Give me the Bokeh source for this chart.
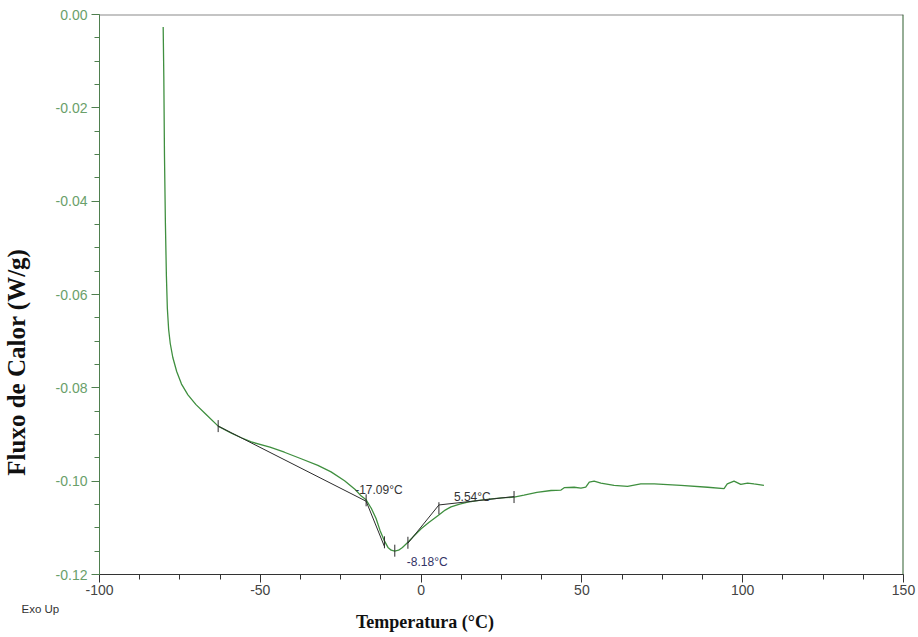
from bokeh.plotting import figure
from bokeh.models import (Range1d, SingleIntervalTicker, PrintfTickFormatter, Span,
                          Title, ColumnDataSource, LinearAxis, FixedTicker)
from bokeh.core.properties import value
from bokeh.embed import file_html
from bokeh.resources import INLINE
import numpy as np

# ---- data ----
temp = [-80.2, -80.0, -79.8, -79.5, -79.2, -78.9, -78.5, -78.0, -77.2, -76.0, -74.5, -72.5,
        -70.0, -67.0, -63.1, -59.0, -55.9, -52.8, -47.0, -42.5, -37.3, -32.1, -28.0, -23.8,
        -20.5, -18.6, -17.1, -15.5, -14.0, -12.8, -11.4, -10.3, -9.3, -8.2, -7.0, -5.8, -4.1,
        -2.0, 0.0, 2.5, 5.2, 7.5, 9.3, 12.0, 14.5, 18.0, 22.0, 25.0, 28.9, 32.0, 36.0, 40.4,
        43.5, 44.5, 47.6, 49.7, 51.2, 52.3, 53.8, 55.9, 60.0, 64.2, 68.3, 72.5, 80.8, 89.1,
        94.2, 95.2, 97.3, 99.4, 101.5, 103.5, 106.6]
heat_flow = [-0.0027, -0.0134, -0.0300, -0.0450, -0.0560, -0.0630, -0.0675, -0.0705, -0.0735,
             -0.0765, -0.0792, -0.0815, -0.0836, -0.0856, -0.0882, -0.0897, -0.0907, -0.0916,
             -0.0927, -0.0938, -0.0952, -0.0966, -0.0980, -0.0999, -0.1018, -0.1032, -0.1040,
             -0.1058, -0.1080, -0.1105, -0.1128, -0.1142, -0.1148, -0.1150, -0.1148, -0.1142,
             -0.1131, -0.1116, -0.1102, -0.1088, -0.1074, -0.1062, -0.1055, -0.1049, -0.1045,
             -0.1041, -0.1038, -0.1036, -0.1034, -0.1030, -0.1024, -0.1020, -0.1019, -0.1014,
             -0.1013, -0.1015, -0.1013, -0.1002, -0.1000, -0.1004, -0.1009, -0.1011, -0.1006,
             -0.1006, -0.1009, -0.1013, -0.1016, -0.1006, -0.1000, -0.1007, -0.1004, -0.1006,
             -0.1009]

# analysis construction lines (tangents / baselines)
tangent_x = [[-63.1, -17.09], [-17.09, -11.4], [-4.1, 5.54], [5.54, 28.9]]
tangent_y = [[-0.0882, -0.1043], [-0.1043, -0.1140], [-0.1133, -0.1051], [-0.1051, -0.1033]]

# analysis markers
marker_x = [-63.1, -17.09, -11.4, -8.18, -4.1, 5.54, 28.9]
marker_y = [-0.0882, -0.1041, -0.1131, -0.1149, -0.1132, -0.1058, -0.1034]

# annotation texts
ann_x = [-17.09, -8.18, 5.54]
ann_y = [-0.1041, -0.1149, -0.1058]
ann_text = ["-17.09°C", "-8.18°C", "5.54°C"]

x_title = "Temperatura (°C)"
y_title = "Fluxo de Calor (W/g)"
x_title_at = 1.2        # x value under the title centre
y_title_at = -0.0745    # y value beside the title centre
footnote = "Exo Up"

# ---- figure ----
p = figure(width=918, height=637, output_backend="svg", toolbar_location=None,
           x_range=Range1d(-100, 150), y_range=Range1d(-0.12, 0.0),
           min_border_left=98, min_border_right=15, min_border_top=14, min_border_bottom=63)
p.outline_line_color = None
p.grid.visible = False
p.background_fill_color = "white"
p.border_fill_color = "white"

# top and right frame lines
p.add_layout(Span(location=0.0, dimension="width", line_color="#8a8a8a", line_width=2))
p.add_layout(Span(location=150, dimension="height", line_color="#2f5f2f", line_width=2))

# data curve
p.line(temp, heat_flow, line_color="#3f8f3f", line_width=1.3)

# construction lines
p.multi_line(tangent_x, tangent_y, line_color="#2b2b2b", line_width=1)

# markers
p.scatter(marker_x, marker_y, marker="dash", angle=np.pi / 2, size=12,
          line_color="#2b2b2b", line_width=1)

# annotations
src = ColumnDataSource(dict(x=ann_x, y=ann_y, t=ann_text,
                            xo=[-11, 12, 15], yo=[-10, 11, -11],
                            c=["#333333", "#333366", "#333333"]))
p.text(x="x", y="y", text="t", x_offset="xo", y_offset="yo", text_color="c",
       text_font=value("Liberation Sans"), text_font_size="12px",
       text_baseline="alphabetic", source=src)

# axes
xa = p.xaxis[0]
xa.ticker = SingleIntervalTicker(interval=50, num_minor_ticks=4)
xa.formatter = PrintfTickFormatter(format="%d")
xa.axis_line_color = "#333333"
xa.major_tick_line_color = "#333333"
xa.minor_tick_line_color = "#333333"
xa.major_tick_out = 8
xa.major_tick_in = 0
xa.minor_tick_out = 5
xa.minor_tick_in = 0
xa.major_label_text_font = "Liberation Sans"
xa.major_label_text_font_size = "14px"
xa.major_label_text_color = "#444444"
xa.major_label_standoff = 2

ya = p.yaxis[0]
ya.ticker = SingleIntervalTicker(interval=0.02, num_minor_ticks=4)
ya.formatter = PrintfTickFormatter(format="%.2f")
ya.axis_line_color = "#4f7f4f"
ya.major_tick_line_color = "#4f7f4f"
ya.minor_tick_line_color = "#4f7f4f"
ya.major_tick_out = 8
ya.major_tick_in = 0
ya.minor_tick_out = 5
ya.minor_tick_in = 0
ya.major_label_text_font = "Liberation Sans"
ya.major_label_text_font_size = "14px"
ya.major_label_text_color = "#6aa06a"
ya.major_label_standoff = 4

# "Exo Up" footnote as a left-aligned title below the axis, shifted left of the frame
p.add_layout(Title(text=footnote, align="left", offset=-78, standoff=7,
                   text_font="Liberation Sans", text_font_size="11.5px",
                   text_font_style="normal", text_color="#333333"), "below")

# axis titles as single-tick axes so they can sit off-centre like the reference
xt = LinearAxis(ticker=FixedTicker(ticks=[x_title_at]),
                major_label_overrides={x_title_at: x_title},
                axis_line_color=None, major_tick_line_color=None, minor_tick_line_color=None,
                major_tick_out=0, major_tick_in=0, major_label_standoff=-7,
                major_label_text_font="Liberation Serif", major_label_text_font_style="bold",
                major_label_text_font_size="18px", major_label_text_color="#111111")
p.add_layout(xt, "below")

yt = LinearAxis(ticker=FixedTicker(ticks=[y_title_at]),
                major_label_overrides={y_title_at: y_title},
                major_label_orientation="vertical",
                axis_line_color=None, major_tick_line_color=None, minor_tick_line_color=None,
                major_tick_out=0, major_tick_in=0, major_label_standoff=22,
                major_label_text_font="Liberation Serif", major_label_text_font_style="bold",
                major_label_text_font_size="25px", major_label_text_color="#111111")
p.add_layout(yt, "left")

open("out.html", "w").write(file_html(p, INLINE))
